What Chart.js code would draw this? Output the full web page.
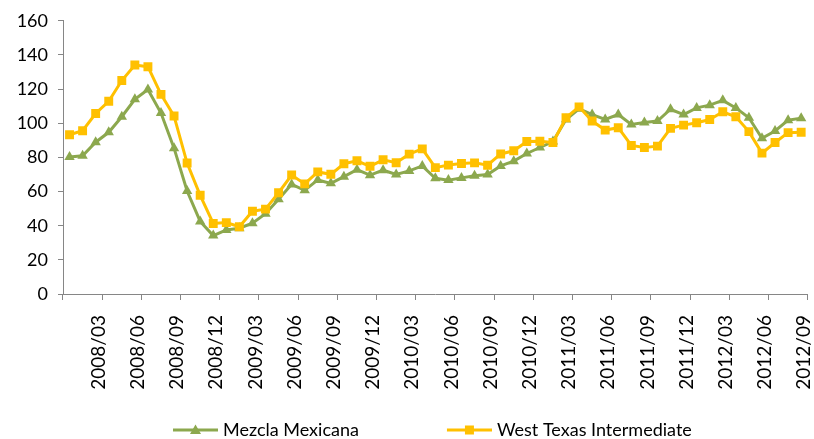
<!DOCTYPE html>
<html>
<head>
<meta charset="utf-8">
<script src="https://cdn.jsdelivr.net/npm/chart.js@4"></script>
<style>
  html, body { margin: 0; padding: 0; background: #fff; }
  #wrap { width: 814px; height: 439px; }
</style>
</head>
<body>
<div id="wrap"><canvas id="crudoChart"></canvas></div>
<script>
// Datos mensuales (dólares por barril)
const meses = [
  "2008/01", "2008/02", "2008/03", "2008/04", "2008/05", "2008/06", "2008/07", "2008/08", "2008/09", "2008/10", "2008/11", "2008/12",
  "2009/01", "2009/02", "2009/03", "2009/04", "2009/05", "2009/06", "2009/07", "2009/08", "2009/09", "2009/10", "2009/11", "2009/12",
  "2010/01", "2010/02", "2010/03", "2010/04", "2010/05", "2010/06", "2010/07", "2010/08", "2010/09", "2010/10", "2010/11", "2010/12",
  "2011/01", "2011/02", "2011/03", "2011/04", "2011/05", "2011/06", "2011/07", "2011/08", "2011/09", "2011/10", "2011/11", "2011/12",
  "2012/01", "2012/02", "2012/03", "2012/04", "2012/05", "2012/06", "2012/07", "2012/08", "2012/09"
];

const mezclaMexicana = [
  80.2, 81.0, 88.9, 94.7, 103.8, 114.0, 119.8, 106.0, 85.4, 60.3, 42.5, 34.2,
  37.5, 38.5, 41.5, 47.0, 55.5, 64.2, 60.7, 66.8, 64.8, 68.7, 72.8, 69.6,
  72.5, 70.0, 72.1, 75.0, 67.8, 66.7, 68.0, 69.3, 70.0, 75.0, 77.8, 82.3,
  85.8, 89.3, 102.2, 108.5, 105.1, 102.2, 105.1, 99.3, 100.5, 101.3, 108.2, 105.1,
  109.0, 110.6, 113.4, 109.0, 103.2, 91.2, 95.5, 101.8, 103.0
];

const westTexas = [
  93.3, 95.6, 105.7, 112.9, 125.0, 134.1, 133.1, 116.9, 104.2, 76.7, 57.8, 41.3,
  41.8, 39.4, 48.5, 49.7, 59.3, 69.7, 64.5, 71.5, 70.1, 76.3, 78.0, 74.8,
  78.6, 76.9, 81.9, 85.0, 74.0, 75.5, 76.4, 76.8, 75.4, 82.0, 83.9, 89.3,
  89.5, 88.7, 103.2, 109.6, 101.3, 96.0, 97.4, 87.0, 85.8, 86.6, 97.0, 98.9,
  100.3, 102.2, 106.7, 103.8, 95.1, 82.5, 88.7, 94.5, 94.7
];

const valoresEjeY = [0, 20, 40, 60, 80, 100, 120, 140, 160];

const VERDE = "#8CA84E";
const AMARILLO = "#FFC000";
const GRIS = "#868686";
const FUENTE = "Lato, 'Open Sans', sans-serif";

// icono de leyenda: línea con el marcador, pegado al lado derecho del lienzo
// (el lado izquierdo transparente da el espacio entre elementos)
function iconoLeyenda(color, forma) {
  const c = document.createElement("canvas");
  c.width = 127;
  c.height = 14;
  const g = c.getContext("2d");
  const x0 = c.width - 45;
  g.strokeStyle = color;
  g.lineWidth = 3;
  g.beginPath();
  g.moveTo(x0, 7);
  g.lineTo(x0 + 45, 7);
  g.stroke();
  g.fillStyle = color;
  if (forma === "rect") {
    g.fillRect(x0 + 18, 2.5, 9, 9);
  } else {
    g.beginPath();
    g.moveTo(x0 + 22.5, 1.5);
    g.lineTo(x0 + 28, 11);
    g.lineTo(x0 + 17, 11);
    g.closePath();
    g.fill();
  }
  return c;
}

const iconos = [iconoLeyenda(VERDE, "triangle"), iconoLeyenda(AMARILLO, "rect")];

// coloca la leyenda donde la tiene el original
const ubicarLeyenda = {
  id: "ubicarLeyenda",
  afterLayout(chart) {
    const ley = chart.legend;
    const dx = 85 - ley.left;
    ley.left += dx;
    ley.right += dx;
    ley.top = 411;
  },
};

new Chart(document.getElementById("crudoChart"), {
  type: "line",
  data: {
    labels: meses,
    datasets: [
      {
        label: "Mezcla Mexicana",
        data: mezclaMexicana,
        borderColor: VERDE,
        backgroundColor: VERDE,
        borderWidth: 3,
        pointStyle: "triangle",
        pointRadius: 6,
        pointBorderWidth: 0,
        tension: 0,
        order: 1,
      },
      {
        label: "West Texas Intermediate",
        data: westTexas,
        borderColor: AMARILLO,
        backgroundColor: AMARILLO,
        borderWidth: 3,
        pointStyle: "rect",
        pointRadius: 6.3,
        pointBorderWidth: 0,
        tension: 0,
        order: 0,
      },
    ],
  },
  plugins: [ubicarLeyenda],
  options: {
    responsive: true,
    maintainAspectRatio: false,
    animation: false,
    layout: { padding: { top: 18, right: 6, bottom: 0, left: 0 } },
    plugins: {
      tooltip: { enabled: false },
      legend: {
        position: "bottom",
        align: "start",
        fullSize: false,
        labels: {
          usePointStyle: true,
          pointStyleWidth: 119,
          padding: 10,
          color: "#000",
          font: { family: FUENTE, size: 18 },
          generateLabels: (chart) =>
            chart.data.datasets.map((ds, i) => ({
              text: ds.label,
              datasetIndex: i,
              pointStyle: iconos[i],
              fillStyle: ds.borderColor,
              strokeStyle: "rgba(0,0,0,0)",
              lineWidth: 0,
              fontColor: "#000",
              hidden: false,
            })),
        },
      },
    },
    scales: {
      x: {
        offset: true,
        grid: {
          offset: true,
          drawOnChartArea: false,
          tickLength: 6,
          tickColor: (c) => (c.index === undefined || c.index % 3 === 0 ? GRIS : "rgba(0,0,0,0)"),
        },
        border: { color: GRIS, width: 1 },
        ticks: {
          autoSkip: false,
          minRotation: 90,
          maxRotation: 90,
          padding: 15,
          labelOffset: 3,
          color: "#000",
          font: { family: FUENTE, size: 19 },
          callback: (v, i) => (i % 3 === 2 ? meses[i] : ""),
        },
        afterFit: (scale) => {
          scale.height = 107;
          scale.paddingLeft = 0;
          scale.paddingRight = 0;
        },
      },
      y: {
        min: 0,
        max: 160,
        grid: { drawOnChartArea: false, tickLength: 5, tickColor: GRIS },
        border: { color: GRIS, width: 1 },
        ticks: {
          padding: 10,
          color: "#000",
          font: { family: FUENTE, size: 18 },
        },
        afterBuildTicks: (scale) => {
          scale.ticks = valoresEjeY.map((v) => ({ value: v }));
        },
        afterFit: (scale) => {
          scale.width = 63;
        },
      },
    },
  },
});
</script>
</body>
</html>
